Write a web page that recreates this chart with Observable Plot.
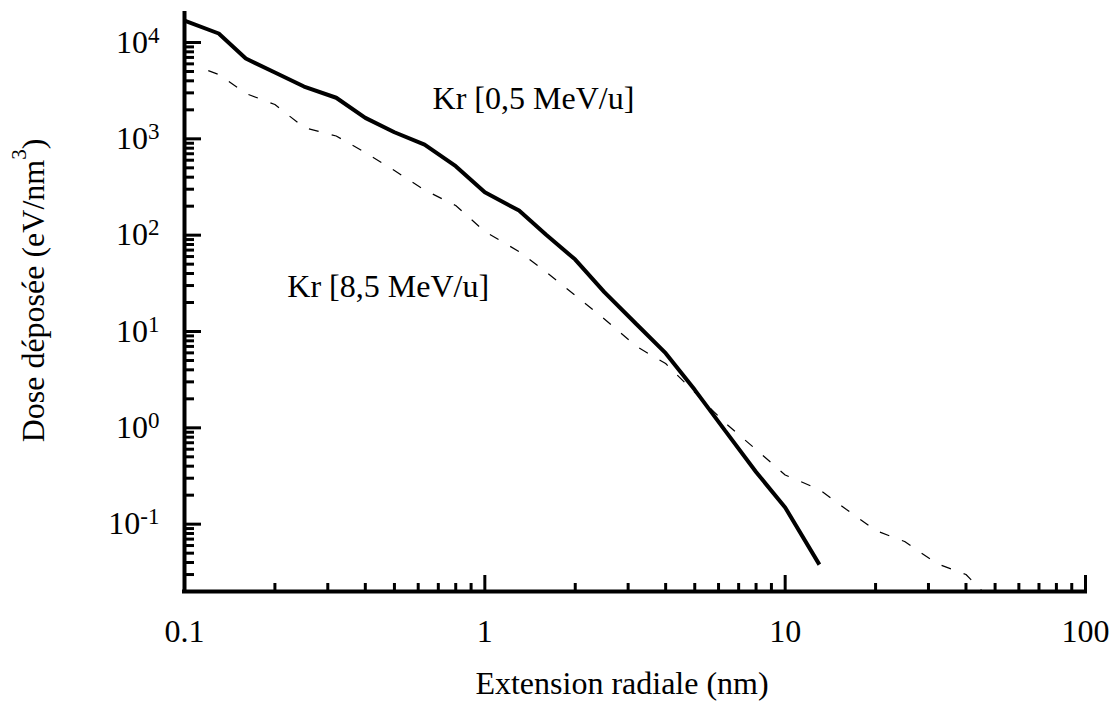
<!DOCTYPE html>
<html>
<head>
<meta charset="utf-8">
<script src="https://cdn.jsdelivr.net/npm/d3@7"></script>
<script src="https://cdn.jsdelivr.net/npm/@observablehq/plot@0.6"></script>
<style>
  body { margin: 0; background: #fff; }
</style>
</head>
<body>
<div id="chart"></div>
<script>
// ---- Data ----
// Kr [0,5 MeV/u] : solid curve
const solidRadius = [0.1, 0.13, 0.16, 0.2, 0.25, 0.32, 0.4, 0.5, 0.63, 0.8, 1, 1.3, 1.6, 2, 2.5, 3.2, 4, 5, 6.3, 8, 10, 13];
const solidDose   = [16900, 12400, 6820, 4880, 3490, 2670, 1650, 1170, 870, 520, 279, 180, 101, 55.8, 25.6, 11.9, 5.96, 2.48, 0.94, 0.348, 0.149, 0.038];

// Kr [8,5 MeV/u] : dashed curve
const dashedRadius = [0.12, 0.13, 0.16, 0.2, 0.25, 0.32, 0.4, 0.5, 0.63, 0.8, 1, 1.3, 1.6, 2, 2.5, 3.2, 4, 5, 6.3, 8, 10, 13, 16, 20, 25, 32, 40, 45];
const dashedDose   = [5100, 4650, 2960, 2270, 1310, 1070, 721, 469, 294, 203, 109, 67.6, 41.4, 23.7, 13.5, 6.98, 4.65, 2.33, 1.13, 0.596, 0.324, 0.229, 0.142, 0.086, 0.066, 0.039, 0.030, 0.0207];

// Axes
const xDomain = [0.1, 100];
const yDomain = [0.02, 20000];
const xTicks = [0.1, 1, 10, 100];
const xTickLabels = ["0.1", "1", "10", "100"];
const xMajorTicks = [1, 10, 100];
const xMinorTicks = [0.2, 0.3, 0.4, 0.5, 0.6, 0.7, 0.8, 0.9, 2, 3, 4, 5, 6, 7, 8, 9, 20, 30, 40, 50, 60, 70, 80, 90];
const yTicks = [0.1, 1, 10, 100, 1000, 10000];
const yTickExponents = ["-1", "0", "1", "2", "3", "4"];
const yMinorTicks = [0.03, 0.04, 0.05, 0.06, 0.07, 0.08, 0.09,
  0.2, 0.3, 0.4, 0.5, 0.6, 0.7, 0.8, 0.9,
  2, 3, 4, 5, 6, 7, 8, 9,
  20, 30, 40, 50, 60, 70, 80, 90,
  200, 300, 400, 500, 600, 700, 800, 900,
  2000, 3000, 4000, 5000, 6000, 7000, 8000, 9000];

// Texts
const xTitle = "Extension radiale (nm)";
const yTitle = "Dose déposée (eV/nm^3)";
const annotationText = ["Kr [0,5 MeV/u]", "Kr [8,5 MeV/u]"];
const annotationX = [0.67, 0.22];
const annotationY = [2620, 29.3];

// ---- Build tables ----
const solid = solidRadius.map((r, i) => ({r, d: solidDose[i]}));
const dashed = dashedRadius.map((r, i) => ({r, d: dashedDose[i]}));

const chart = Plot.plot({
  width: 1120,
  height: 702,
  marginTop: 13,
  marginBottom: 111,
  marginLeft: 184,
  marginRight: 35,
  style: {
    fontFamily: "'Liberation Serif', 'Times New Roman', serif",
    fontSize: "32px",
    background: "#fff",
    color: "#000"
  },
  x: {type: "log", domain: xDomain, axis: null},
  y: {type: "log", domain: yDomain, axis: null},
  marks: [
    // curves
    Plot.line(dashed, {x: "r", y: "d", stroke: "#000", strokeWidth: 1.2, strokeDasharray: "10,13.5", strokeLinejoin: "miter", strokeLinecap: "butt"}),
    Plot.line(solid, {x: "r", y: "d", stroke: "#000", strokeWidth: 4, strokeLinejoin: "miter", strokeLinecap: "butt"}),
    // axis lines
    Plot.ruleY([yDomain[0]], {stroke: "#000", strokeWidth: 4, strokeLinecap: "square"}),
    Plot.ruleX([xDomain[0]], {stroke: "#000", strokeWidth: 4, strokeLinecap: "square"}),
    // inward ticks
    Plot.axisX(xMinorTicks, {anchor: "bottom", tickSize: -8, strokeWidth: 3, fill: "none", label: null}),
    Plot.axisX(xMajorTicks, {anchor: "bottom", tickSize: -16, strokeWidth: 3, fill: "none", label: null}),
    Plot.axisY(yMinorTicks, {anchor: "left", tickSize: -10, strokeWidth: 3, fill: "none", label: null}),
    Plot.axisY(yTicks, {anchor: "left", tickSize: -17, strokeWidth: 3, fill: "none", label: null}),
    // tick labels
    Plot.axisX(xTicks, {anchor: "bottom", tickSize: 0, tickPadding: 28, label: null,
      tickFormat: d => xTickLabels[xTicks.indexOf(d)]}),
    Plot.axisY(yTicks, {anchor: "left", tickSize: 0, tickPadding: 25, label: null,
      tickFormat: d => "10^" + yTickExponents[yTicks.indexOf(d)]}),
    // axis titles
    Plot.text([xTitle], {frameAnchor: "bottom", text: d => d, textAnchor: "middle", lineAnchor: "middle", dx: -13, dy: 92}),
    Plot.text([yTitle], {frameAnchor: "left", text: d => d, textAnchor: "middle", lineAnchor: "middle", rotate: -90, dx: -151, dy: -12}),
    // curve annotations
    Plot.text(annotationText, {x: (d, i) => annotationX[i], y: (d, i) => annotationY[i], text: d => d, textAnchor: "start", lineAnchor: "middle"})
  ]
});

// Turn "a^b" into real superscripts
const NS = "http://www.w3.org/2000/svg";
chart.querySelectorAll("text").forEach(t => {
  const s = t.textContent;
  const k = s.indexOf("^");
  if (k < 0) return;
  const base = s.slice(0, k);
  const rest = s.slice(k + 1);
  const m = rest.match(/^[-\u2212]?\d+/);
  const exp = m ? m[0] : rest;
  const tail = rest.slice(exp.length);
  const isTick = !!t.closest('[aria-label="y-axis tick label"]');
  const supSize = isTick ? 23 : 21;
  const shift = isTick ? 10 : 18;
  t.textContent = "";
  const a = document.createElementNS(NS, "tspan");
  a.textContent = base;
  t.appendChild(a);
  const b = document.createElementNS(NS, "tspan");
  b.textContent = exp;
  b.setAttribute("font-size", supSize);
  b.setAttribute("dy", -shift);
  t.appendChild(b);
  if (tail) {
    const c = document.createElementNS(NS, "tspan");
    c.textContent = tail;
    c.setAttribute("dy", shift);
    t.appendChild(c);
  }
});

document.getElementById("chart").appendChild(chart);
</script>
</body>
</html>
